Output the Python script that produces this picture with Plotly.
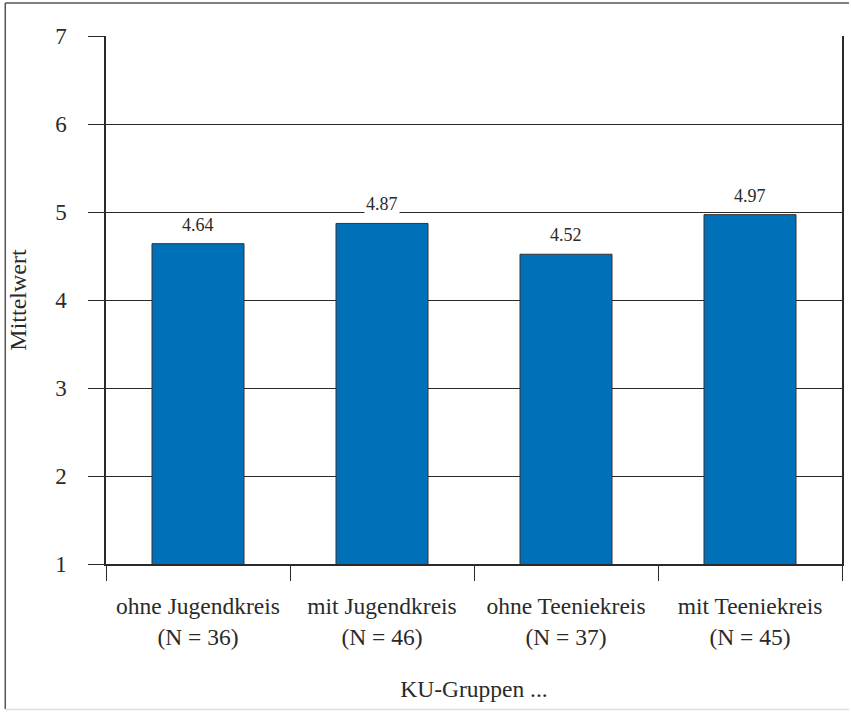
import plotly.graph_objects as go

categories = ["ohne Jugendkreis<br>(N = 36)", "mit Jugendkreis<br>(N = 46)",
              "ohne Teeniekreis<br>(N = 37)", "mit Teeniekreis<br>(N = 45)"]
values = [4.64, 4.87, 4.52, 4.97]
value_labels = ["4.64", "4.87", "4.52", "4.97"]
y_ticks = [1, 2, 3, 4, 5, 6, 7]

FONT = "Liberation Serif"
TXT = "#2a2a2a"
LINE = "#2a2a2a"

fig = go.Figure()
fig.add_trace(go.Bar(
    x=categories, y=values, width=0.5,
    marker=dict(color="#0070b8", line=dict(color="#333333", width=1)),
    hoverinfo="skip", showlegend=False,
))

for c, v, lab in zip(categories, values, value_labels):
    fig.add_annotation(x=c, y=v, text=lab, showarrow=False, yanchor="bottom",
                       yshift=7, bgcolor="white", borderpad=1,
                       font=dict(family=FONT, size=18, color=TXT))

fig.update_layout(
    width=851, height=712,
    margin=dict(l=106, r=7, t=36, b=148),
    paper_bgcolor="white", plot_bgcolor="white",
    font=dict(family=FONT, color=TXT),
    bargap=0.5,
)
fig.update_xaxes(
    type="category", tickson="boundaries", range=[-0.5, 3.5],
    ticks="outside", ticklen=15, tickwidth=1, tickcolor=LINE,
    showline=True, linecolor=LINE, linewidth=2,
    showgrid=False, tickfont=dict(family=FONT, size=23.5, color=TXT),
    ticklabelstandoff=20,
    title=dict(text="KU-Gruppen ...", font=dict(family=FONT, size=23.5, color=TXT), standoff=32),
)
fig.update_yaxes(
    range=[1, 7], tickvals=y_ticks, ticktext=[str(t) for t in y_ticks],
    ticks="outside", ticklen=16, tickwidth=1, tickcolor=LINE,
    showline=True, linecolor=LINE, linewidth=1.5, mirror=True,
    showgrid=True, gridcolor=LINE, gridwidth=1,
    tickfont=dict(family=FONT, size=23, color=TXT), ticklabelstandoff=17,
    title=dict(text="Mittelwert", font=dict(family=FONT, size=24, color=TXT), standoff=22),
    zeroline=False,
)

# outer frame (plot area spans x 106..844, y 36..564 in page pixels)
def px_x(v):
    return (v - 106) / 738.0

def px_y(v):
    return (564 - v) / 528.0

fig.add_shape(type="line", xref="paper", yref="paper", x0=px_x(5), x1=px_x(851), y0=px_y(3), y1=px_y(3),
              line=dict(color="#555555", width=1.5))
fig.add_shape(type="line", xref="paper", yref="paper", x0=px_x(5), x1=px_x(5), y0=px_y(3), y1=px_y(709),
              line=dict(color="#555555", width=1.5))
fig.add_shape(type="line", xref="paper", yref="paper", x0=px_x(5), x1=px_x(851), y0=px_y(709.5), y1=px_y(709.5),
              line=dict(color="#dddddd", width=1.5))

fig.write_html("out.html", config={"displayModeBar": False},
               post_script="document.body.style.margin='0';")
